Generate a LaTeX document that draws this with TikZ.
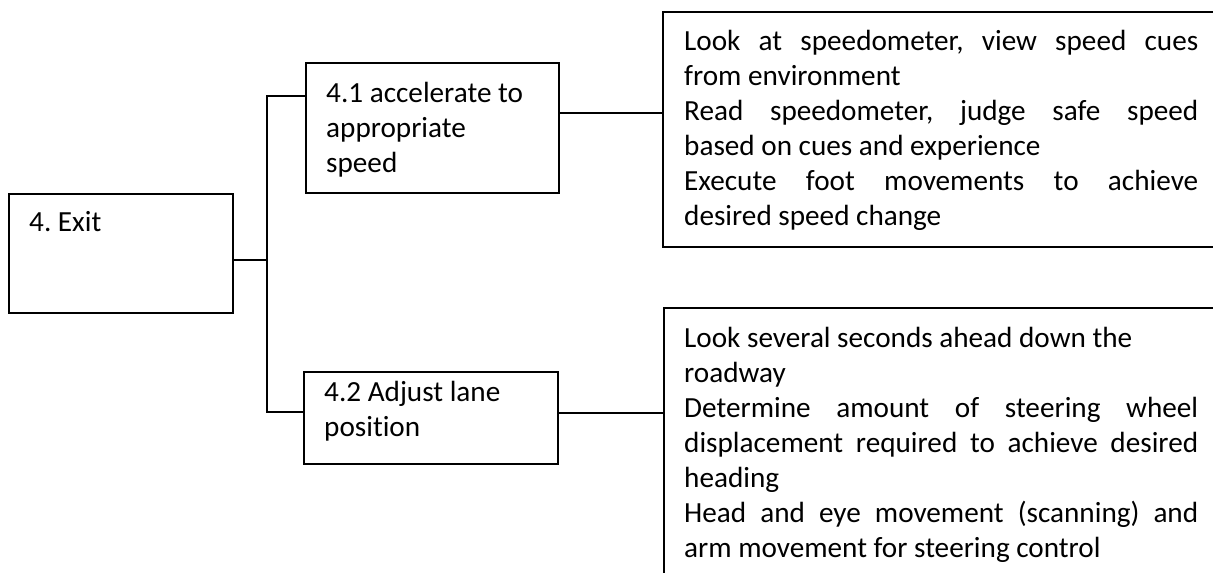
\documentclass[tikz,border=0pt]{standalone}
\usepackage{fontspec}
\setmainfont{Carlito}[Ligatures=NoCommon]
\begin{document}
\begin{tikzpicture}[x=1pt,y=-1pt,
  box/.style={draw=black,line width=1.6pt,rectangle,inner sep=0pt,anchor=north west},
  txt/.style={inner sep=0pt,anchor=base west,text width=220pt,align=flush left,font=\fontsize{29.2}{35}\selectfont\frenchspacing},
  jtxt/.style={inner sep=0pt,anchor=base west,text width=514pt,align=justify,font=\fontsize{29.2}{35}\selectfont\frenchspacing},
  conn/.style={draw=black,line width=1.6pt}]
\useasboundingbox (0,0) rectangle (1213,573);
\clip (0,0) rectangle (1213,573);
\fill[white] (0,0) rectangle (1213,573);
% boxes
\node[box,minimum width=224pt,minimum height=119pt] (exit) at (8,193) {};
\node[box,minimum width=253pt,minimum height=130pt] (a41) at (305,62) {};
\node[box,minimum width=254pt,minimum height=92pt] (a42) at (303,371) {};
\node[box,minimum width=570pt,minimum height=235pt] (r1) at (662,11) {};
\node[box,minimum width=570pt,minimum height=290pt] (r2) at (663,307) {};
% texts
\node[txt] (exitT) at (29,231) {4. Exit};
\node[txt] (a41T) at (326,102) {4.1 accelerate to\\appropriate\\speed};
\node[txt] (a42T) at (324,401) {4.2 Adjust lane\\position};
\node[jtxt] (r1T) at (684,50) {\noindent\hyphenpenalty=10000\tolerance=10000 Look at speedometer, view speed cues\linebreak from environment\newline Read speedometer, judge safe speed\linebreak based on cues and experience\newline Execute foot movements to achieve\linebreak desired speed change};
\node[jtxt] (r2T) at (684,347) {\noindent\hyphenpenalty=10000\tolerance=10000 Look several seconds ahead down the\newline roadway\newline Determine amount of steering wheel\linebreak displacement required to achieve desired\linebreak heading\newline Head and eye movement (scanning) and\linebreak arm movement for steering control};
% connectors
\coordinate (tmid) at (267,260);
\coordinate (ttop) at (267,96);
\coordinate (tbot) at (267,412);
\coordinate (c1) at (610,113);
\coordinate (c2) at (610,413);
\draw[conn] (exit.east |- tmid) -- (tmid);
\draw[conn] (a41.west |- ttop) -- (ttop) -- (tbot) -- (a42.west |- tbot);
\draw[conn] (a41.east |- c1) -- (r1.west |- c1);
\draw[conn] (a42.east |- c2) -- (r2.west |- c2);
\end{tikzpicture}
\end{document}
